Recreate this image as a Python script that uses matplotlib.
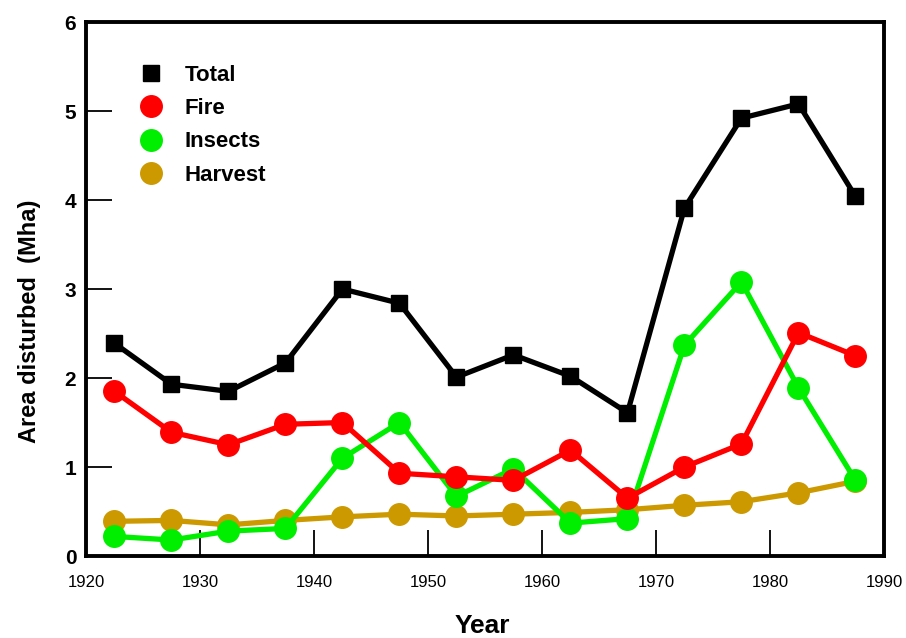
import matplotlib.pyplot as plt

# 5-year period midpoints
years = [1922.5, 1927.5, 1932.5, 1937.5, 1942.5, 1947.5, 1952.5,
         1957.5, 1962.5, 1967.5, 1972.5, 1977.5, 1982.5, 1987.5]

total = [2.39, 1.93, 1.85, 2.17, 3.00, 2.84, 2.01, 2.26, 2.02, 1.61, 3.91, 4.92, 5.08, 4.04]
fire = [1.85, 1.39, 1.25, 1.48, 1.50, 0.93, 0.89, 0.85, 1.19, 0.65, 1.00, 1.26, 2.51, 2.25]
insects = [0.22, 0.18, 0.28, 0.31, 1.10, 1.50, 0.67, 0.98, 0.37, 0.42, 2.37, 3.08, 1.89, 0.85]
harvest = [0.39, 0.40, 0.35, 0.40, 0.44, 0.47, 0.45, 0.47, 0.49, 0.52, 0.57, 0.61, 0.71, 0.84]

plt.rcParams['font.family'] = ['Liberation Sans', 'DejaVu Sans']

fig = plt.figure(figsize=(9.06, 6.38), dpi=100)
ax = fig.add_axes([0.0949, 0.1285, 0.8808, 0.837])

lw = 3.8
ax.plot(years, harvest, color='#cc9900', lw=lw, marker='o', ms=15.5, label='Harvest', zorder=2)
ax.plot(years, insects, color='#00ee00', lw=lw, marker='o', ms=15.5, label='Insects', zorder=3)
ax.plot(years, fire, color='#ff0000', lw=lw, marker='o', ms=15.5, label='Fire', zorder=4)
ax.plot(years, total, color='black', lw=lw, marker='s', ms=11.5, label='Total', zorder=5)

ax.set_xlim(1920, 1990)
ax.set_ylim(0, 6)
ax.set_xticks(range(1920, 1991, 10))
ax.set_yticks(range(0, 7))
ax.tick_params(direction='in', length=19, width=1.3, colors='black')
ax.tick_params(axis='x', labelsize=12, pad=14)
ax.tick_params(axis='y', labelsize=15, pad=7)
for t in ax.get_yticklabels():
    t.set_fontweight('bold')
for s in ax.spines.values():
    s.set_linewidth(2.8)

ax.set_xlabel('Year', fontsize=19, fontweight='bold')
ax.xaxis.set_label_coords(0.497, -0.108)
ax.set_ylabel('Area disturbed  (Mha)', fontsize=17, fontweight='bold')
ax.yaxis.set_label_coords(-0.056, 0.44)

handles, labels = ax.get_legend_handles_labels()
order = [3, 2, 1, 0]
leg = ax.legend([handles[i] for i in order], [labels[i] for i in order],
                loc='upper left', bbox_to_anchor=(0.057, 0.957), frameon=False,
                prop={'weight': 'bold', 'size': 16}, handlelength=0,
                handletextpad=1.5, labelspacing=0.55, markerscale=1.0)
for h in leg.legend_handles:
    h.set_linewidth(0)

fig.savefig('out.png', dpi=100)
